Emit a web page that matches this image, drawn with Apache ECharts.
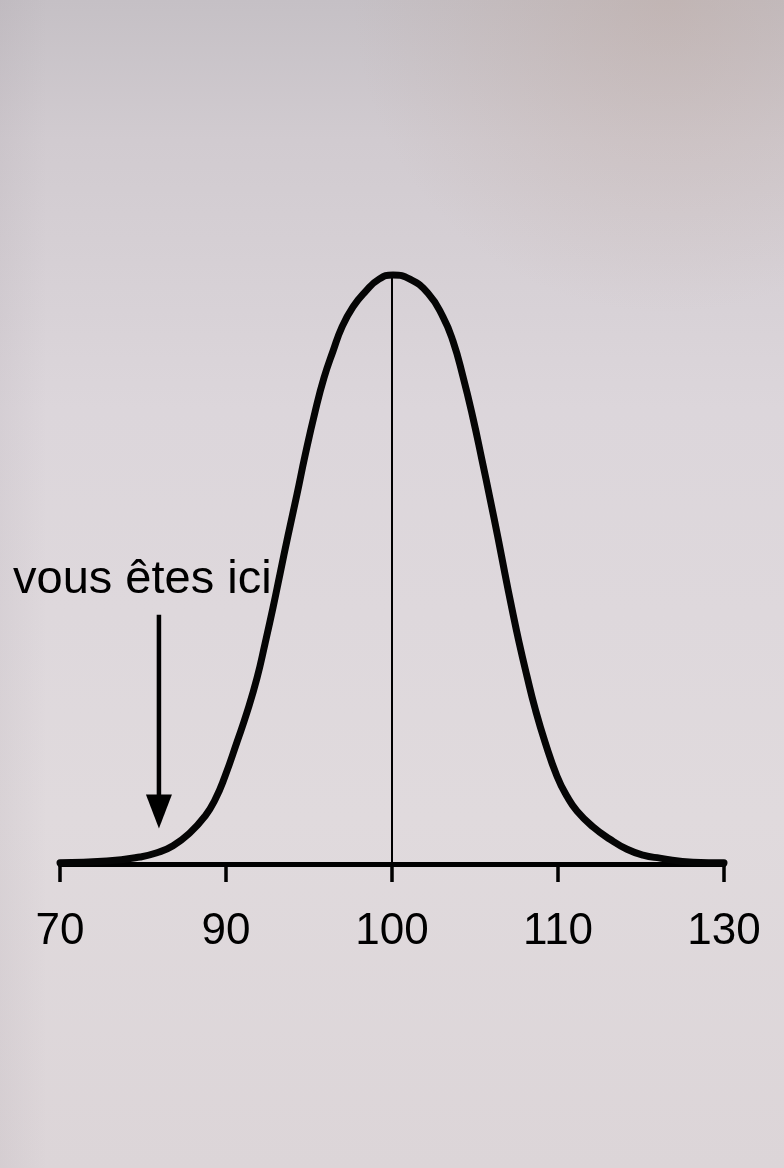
<!DOCTYPE html>
<html>
<head>
<meta charset="utf-8">
<style>
html,body{margin:0;padding:0;background:#dcd6da;}
#chart{width:784px;height:1168px;}
</style>
<script src="https://cdn.jsdelivr.net/npm/echarts@6/dist/echarts.min.js"></script>
</head>
<body>
<div id="chart"></div>
<script>
// Tick labels on the x axis (equally spaced positions 0..4)
const tickLabels = ['70', '90', '100', '110', '130'];

// Bell curve: position along the axis (0..4) and height (peak = 1)
const curveX = [0.000, 0.283, 0.482, 0.584, 0.681, 0.783, 0.873, 0.934, 0.994, 1.066, 1.127, 1.187, 1.235, 1.283, 1.325, 1.373, 1.428, 1.476, 1.536, 1.590, 1.645, 1.699, 1.765, 1.837, 1.922, 2.006,
                2.108, 2.217, 2.307, 2.367, 2.428, 2.488, 2.542, 2.590, 2.639, 2.681, 2.723, 2.765, 2.813, 2.861, 2.922, 2.994, 3.054, 3.114, 3.211, 3.313, 3.416, 3.512, 3.614, 3.813, 4.000];
const curveY = [0.002, 0.005, 0.012, 0.019, 0.031, 0.053, 0.081, 0.109, 0.149, 0.207, 0.258, 0.316, 0.374, 0.435, 0.492, 0.557, 0.628, 0.693, 0.767, 0.825, 0.871, 0.912, 0.946, 0.971, 0.993, 1.000,
                0.993, 0.969, 0.929, 0.888, 0.827, 0.757, 0.686, 0.621, 0.553, 0.492, 0.433, 0.377, 0.319, 0.265, 0.207, 0.149, 0.115, 0.090, 0.063, 0.042, 0.025, 0.015, 0.010, 0.003, 0.002];

// Centre line at the mean (100)
const centerX = [2.0, 2.0];
const centerY = [0.0, 1.0];

// "vous êtes ici" arrow
const annotationText = 'vous êtes ici';
const arrowX = [0.596, 0.596];
const arrowY = [0.423, 0.11];
const arrowHead = [0.596, 0.089];

const zip = (a, b) => a.map((v, i) => [v, b[i]]);

const chart = echarts.init(document.getElementById('chart'), null, { renderer: 'canvas' });

const option = {
  animation: false,
  backgroundColor: {
    type: 'linear', x: 0, y: 0, x2: 0, y2: 1,
    colorStops: [
      { offset: 0, color: '#c5c0c5' },
      { offset: 0.12, color: '#d1cbd0' },
      { offset: 0.35, color: '#dcd6db' },
      { offset: 0.7, color: '#e0dadd' },
      { offset: 1, color: '#dcd5d8' }
    ]
  },
  graphic: [
    {
      type: 'rect', silent: true, z: -10,
      shape: { x: 0, y: 0, width: 784, height: 1168 },
      style: {
        fill: {
          type: 'radial', x: 0.85, y: 0, r: 0.4,
          colorStops: [
            { offset: 0, color: 'rgba(185,160,148,0.35)' },
            { offset: 1, color: 'rgba(185,160,148,0)' }
          ]
        }
      }
    },
    {
      type: 'rect', silent: true, z: -10,
      shape: { x: 0, y: 0, width: 784, height: 1168 },
      style: {
        fill: {
          type: 'linear', x: 0, y: 0, x2: 1, y2: 0,
          colorStops: [
            { offset: 0, color: 'rgba(150,140,150,0.10)' },
            { offset: 0.06, color: 'rgba(150,140,150,0)' },
            { offset: 1, color: 'rgba(150,140,150,0)' }
          ]
        }
      }
    },
    {
      type: 'text', x: 13, y: 580, z: 10,
      style: {
        text: annotationText,
        font: '47px "Liberation Sans", Arial, sans-serif',
        fill: '#000',
        align: 'left',
        verticalAlign: 'middle'
      }
    }
  ],
  grid: { left: 60, right: 60, top: 275, bottom: 304 },
  xAxis: {
    type: 'value', min: 0, max: 4, interval: 1,
    axisLine: { show: true, lineStyle: { color: '#000', width: 5 } },
    axisTick: { show: true, length: 18, lineStyle: { color: '#000', width: 3.5 } },
    splitLine: { show: false },
    axisLabel: {
      margin: 46,
      color: '#000',
      fontSize: 44,
      fontFamily: '"Liberation Sans", Arial, sans-serif',
      formatter: (v) => tickLabels[Math.round(v)] || ''
    }
  },
  yAxis: { type: 'value', min: 0, max: 1, show: false },
  series: [
    {
      type: 'line', name: 'centre', data: zip(centerX, centerY),
      symbol: 'none', clip: false, z: 2,
      lineStyle: { color: '#000', width: 2 }
    },
    {
      type: 'line', name: 'courbe', data: zip(curveX, curveY),
      symbol: 'none', smooth: 0.5, clip: false, z: 3,
      lineStyle: { color: '#050505', width: 7, cap: 'round', join: 'round' }
    },
    {
      type: 'line', name: 'flèche', data: zip(arrowX, arrowY),
      symbol: 'none', clip: false, z: 3,
      lineStyle: { color: '#000', width: 4.5 }
    },
    {
      type: 'scatter', name: 'pointe', data: [arrowHead],
      symbol: 'triangle', symbolSize: [26, 34], symbolRotate: 180,
      clip: false, z: 4,
      itemStyle: { color: '#000', opacity: 1 }
    }
  ]
};

chart.setOption(option);
</script>
</body>
</html>
